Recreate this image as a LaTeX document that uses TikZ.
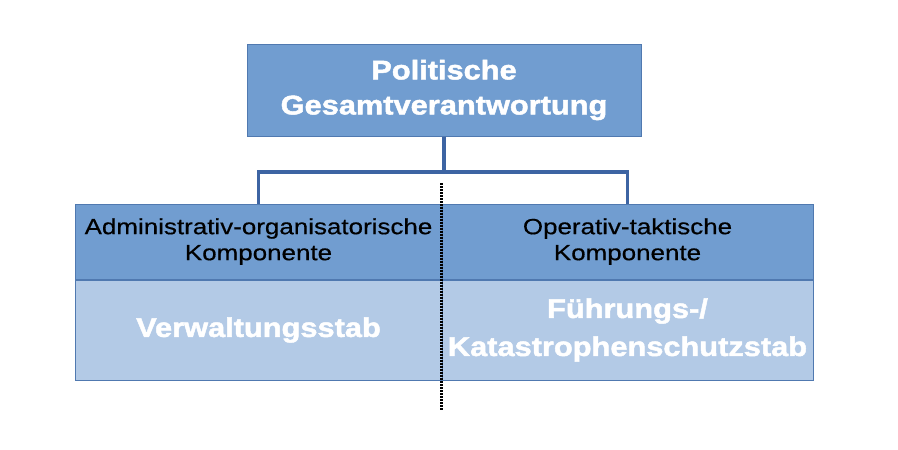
\documentclass[tikz,border=0pt]{standalone}
\usepackage{fontspec}
\setmainfont{Liberation Sans}
\newfontfamily\headfont[FakeStretch=1.18,FakeBold=0.5]{Liberation Sans}
\newfontfamily\leadfont[FakeStretch=1.14,FakeBold=1.8]{Liberation Sans Bold}
\usepackage{tikz}
\usetikzlibrary{positioning}

\definecolor{boxdark}{HTML}{719DD0}
\definecolor{boxlight}{HTML}{B3CAE6}
\definecolor{boxline}{HTML}{5079B0}
\definecolor{linkblue}{HTML}{3D64A3}

\tikzset{
  leadbox/.style={draw=boxline,line width=1pt,fill=boxdark,align=center,
    text=white,font=\leadfont\fontsize{27}{35}\selectfont,inner sep=0pt},
  headbox/.style={draw=boxline,line width=1pt,fill=boxdark,align=center,
    text=black,font=\headfont\fontsize{22}{26}\selectfont,inner sep=0pt,
    minimum height=75pt},
  stabbox/.style={draw=boxline,line width=1pt,fill=boxlight,align=center,
    text=white,font=\leadfont\fontsize{27}{38}\selectfont,inner sep=0pt,
    minimum height=100pt},
  link/.style={draw=linkblue,line width=3.5pt},
  divider/.style={line width=3pt,dash pattern=on 1.5pt off 1.5pt}
}

\begin{document}
\begin{tikzpicture}[x=1pt,y=-1pt]
                \useasboundingbox (0,0) rectangle (898,450);
                % top
                \node[leadbox,minimum width=394pt,minimum height=92pt] (gesamt) at (444,90)
                    {Politische\\Gesamtverantwortung};
                % two components
                \node[headbox,minimum width=367pt] (admin) at (258.5,241.5)
                    {Administrativ-organisatorische\\Komponente};
                \node[headbox,minimum width=371pt] (operativ) at (627.5,241.5)
                    {Operativ-taktische\\Komponente};
                \node[stabbox,minimum width=367pt,below=0pt of admin] (verwaltung)
                    {Verwaltungsstab};
                \node[stabbox,minimum width=371pt,below=0pt of operativ] (fuehrung)
                    {Führungs-/\\Katastrophenschutzstab};
                % connectors
                \coordinate (fork) at (444,172);
                \draw[link] (gesamt.south) -- (fork);
                \draw[link,line join=miter] (admin.north) |- (fork) -| (operativ.north);
                % divider
                \coordinate (divtop) at (441,183);
                \coordinate (divbot) at (441,410);
                \draw[divider] (divtop) -- (divbot);
            \end{tikzpicture}
\end{document}
